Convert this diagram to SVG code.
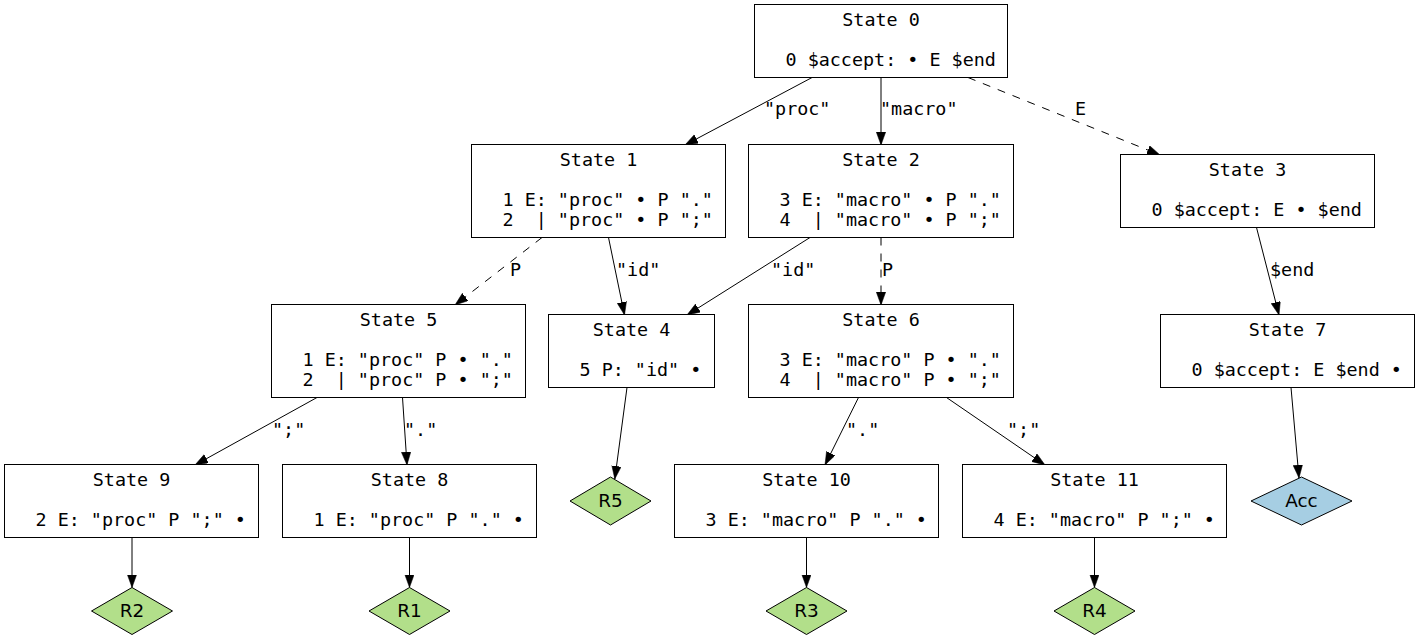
<svg xmlns="http://www.w3.org/2000/svg" width="1420" height="640" viewBox="0 0 1420 640">
<style>
.bg{fill:#ffffff}
.st rect{fill:#ffffff;stroke:#000000;stroke-width:1}
.t{font-family:"DejaVu Sans Mono","Liberation Mono",monospace;font-size:18.4px;fill:#000000;white-space:pre}
.c{text-anchor:middle}
.dm polygon{stroke:#000000;stroke-width:1}
.red polygon{fill:#b2df8a}
.acc polygon{fill:#a6cee3}
.dt{font-family:"DejaVu Sans","Liberation Sans",sans-serif;font-size:18.4px;fill:#000000;text-anchor:middle}
.e line{stroke:#000000;stroke-width:1;fill:none;marker-end:url(#ah)}
.e line.d{stroke-dasharray:8,8}
.lbl{font-family:"DejaVu Sans Mono","Liberation Mono",monospace;font-size:18.4px;fill:#000000}
</style>
<defs>
<marker id="ah" markerUnits="userSpaceOnUse" markerWidth="14" markerHeight="10" refX="13" refY="4.7" orient="auto">
<path d="M0,0 L13,4.7 L0,9.4 Z" fill="#000000" stroke="#000000" stroke-width="0.5"/>
</marker>
</defs>
<rect class="bg" x="0" y="0" width="1420" height="640"/>

<g id="edges" class="e">
<line x1="813" y1="77" x2="685" y2="145"/>
<line x1="881" y1="77.5" x2="881" y2="145"/>
<line class="d" x1="968" y1="77.5" x2="1160" y2="155"/>
<line class="d" x1="542" y1="237.5" x2="455" y2="305"/>
<line x1="608.5" y1="237.5" x2="624.5" y2="315"/>
<line x1="810" y1="237.5" x2="687" y2="315"/>
<line class="d" x1="881" y1="237.5" x2="881" y2="305"/>
<line x1="1256.5" y1="227.5" x2="1279" y2="315"/>
<line x1="317" y1="397.5" x2="195" y2="465"/>
<line x1="402.5" y1="397.5" x2="407" y2="465"/>
<line x1="627" y1="387.5" x2="614.8" y2="479"/>
<line x1="858.5" y1="397.5" x2="825" y2="465"/>
<line x1="946.5" y1="397.5" x2="1045" y2="465"/>
<line x1="1291" y1="387.5" x2="1299" y2="478"/>
<line x1="132" y1="537.5" x2="132" y2="587.5"/>
<line x1="409.5" y1="537.5" x2="409.5" y2="587.5"/>
<line x1="806.5" y1="537.5" x2="806.5" y2="587.5"/>
<line x1="1094.5" y1="537.5" x2="1094.5" y2="587.5"/>
</g>

<g id="edge-labels" class="lbl">
<text x="764" y="115">"proc"</text>
<text x="880" y="115">"macro"</text>
<text x="1075" y="115">E</text>
<text x="510" y="276">P</text>
<text x="616" y="276">"id"</text>
<text x="771" y="276">"id"</text>
<text x="882" y="276">P</text>
<text x="1270" y="276">$end</text>
<text x="272" y="436">";"</text>
<text x="404" y="436">"."</text>
<text x="846" y="436">"."</text>
<text x="1007" y="436">";"</text>
</g>

<g id="state0" class="st">
<rect x="754.5" y="4.5" width="253" height="73"/>
<text class="t c" x="881" y="26">State 0</text>
<text class="t" x="785.5" y="66">0 $accept: • E $end</text>
</g>

<g id="state1" class="st">
<rect x="471.5" y="144.5" width="254" height="93"/>
<text class="t c" x="598.5" y="166">State 1</text>
<text class="t" x="502.5" y="206">1 E: "proc" • P "."</text>
<text class="t" x="502.5" y="226" xml:space="preserve">2  | "proc" • P ";"</text>
</g>

<g id="state2" class="st">
<rect x="748.5" y="144.5" width="265" height="93"/>
<text class="t c" x="881" y="166">State 2</text>
<text class="t" x="779.5" y="206">3 E: "macro" • P "."</text>
<text class="t" x="779.5" y="226" xml:space="preserve">4  | "macro" • P ";"</text>
</g>

<g id="state3" class="st">
<rect x="1120.5" y="154.5" width="254" height="73"/>
<text class="t c" x="1247.5" y="176">State 3</text>
<text class="t" x="1151.5" y="216">0 $accept: E • $end</text>
</g>

<g id="state4" class="st">
<rect x="548.5" y="314.5" width="166" height="73"/>
<text class="t c" x="631.5" y="336">State 4</text>
<text class="t" x="579.5" y="376">5 P: "id" •</text>
</g>

<g id="state5" class="st">
<rect x="271.5" y="304.5" width="254" height="93"/>
<text class="t c" x="398.5" y="326">State 5</text>
<text class="t" x="302.5" y="366">1 E: "proc" P • "."</text>
<text class="t" x="302.5" y="386" xml:space="preserve">2  | "proc" P • ";"</text>
</g>

<g id="state6" class="st">
<rect x="748.5" y="304.5" width="265" height="93"/>
<text class="t c" x="881" y="326">State 6</text>
<text class="t" x="779.5" y="366">3 E: "macro" P • "."</text>
<text class="t" x="779.5" y="386" xml:space="preserve">4  | "macro" P • ";"</text>
</g>

<g id="state7" class="st">
<rect x="1160.5" y="314.5" width="254" height="73"/>
<text class="t c" x="1287.5" y="336">State 7</text>
<text class="t" x="1191.5" y="376">0 $accept: E $end •</text>
</g>

<g id="state9" class="st">
<rect x="4.5" y="464.5" width="254" height="73"/>
<text class="t c" x="131.5" y="486">State 9</text>
<text class="t" x="35.5" y="526">2 E: "proc" P ";" •</text>
</g>

<g id="state8" class="st">
<rect x="282.5" y="464.5" width="254" height="73"/>
<text class="t c" x="409.5" y="486">State 8</text>
<text class="t" x="313.5" y="526">1 E: "proc" P "." •</text>
</g>

<g id="state10" class="st">
<rect x="674.5" y="464.5" width="264" height="73"/>
<text class="t c" x="806.5" y="486">State 10</text>
<text class="t" x="705.5" y="526">3 E: "macro" P "." •</text>
</g>

<g id="state11" class="st">
<rect x="962.5" y="464.5" width="264" height="73"/>
<text class="t c" x="1094.5" y="486">State 11</text>
<text class="t" x="993.5" y="526">4 E: "macro" P ";" •</text>
</g>

<g id="r5" class="dm red">
<polygon points="610.5,477 651,501 610.5,525 570,501"/>
<text class="dt" x="610.5" y="506.5">R5</text>
</g>

<g id="acc" class="dm acc">
<polygon points="1301.5,477 1352,501 1301.5,525 1251,501"/>
<text class="dt" x="1301.5" y="506.5">Acc</text>
</g>

<g id="r2" class="dm red">
<polygon points="132,587.5 172.5,611 132,634.5 91.5,611"/>
<text class="dt" x="132" y="617">R2</text>
</g>

<g id="r1" class="dm red">
<polygon points="409.5,587.5 450,611 409.5,634.5 369,611"/>
<text class="dt" x="409.5" y="617">R1</text>
</g>

<g id="r3" class="dm red">
<polygon points="806.5,587.5 847,611 806.5,634.5 766,611"/>
<text class="dt" x="806.5" y="617">R3</text>
</g>

<g id="r4" class="dm red">
<polygon points="1094.5,587.5 1135,611 1094.5,634.5 1054,611"/>
<text class="dt" x="1094.5" y="617">R4</text>
</g>
</svg>
